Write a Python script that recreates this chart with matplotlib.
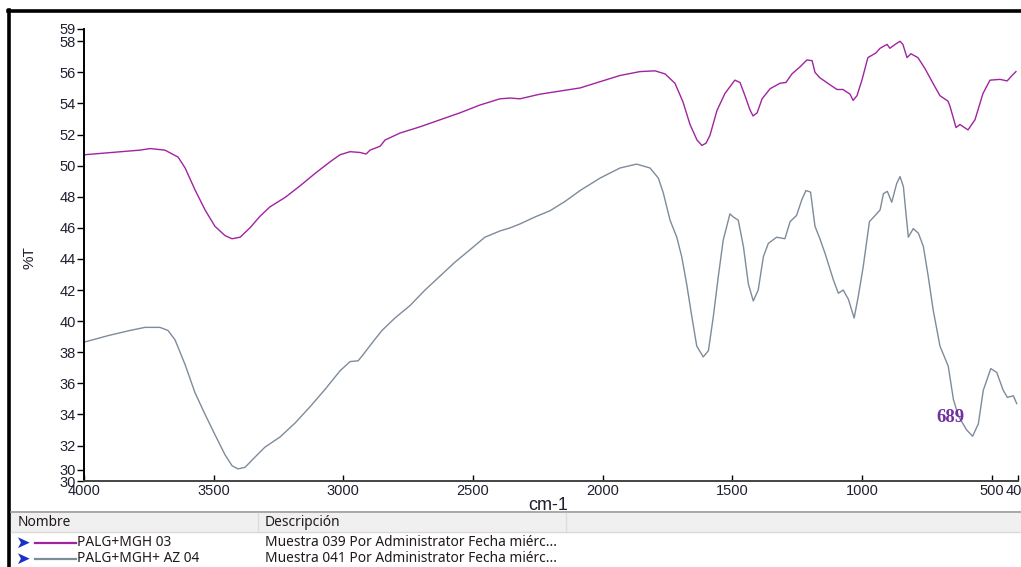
import matplotlib
matplotlib.use('Agg')
from matplotlib import pyplot as plt
from matplotlib.lines import Line2D
from matplotlib.patches import Rectangle

W, H = 1021, 567

# PALG+MGH 03 (magenta trace)
wn_mgh = [4000, 3784, 3745, 3688, 3637, 3610, 3572, 3533, 3495, 3456, 3429, 3398,
          3360, 3321, 3283, 3225, 3167, 3109, 3051, 3013, 2974, 2936, 2912, 2897,
          2858, 2839, 2781, 2704, 2627, 2550, 2473, 2396, 2357, 2319, 2241, 2164,
          2087, 2010, 1933, 1856, 1798, 1759, 1721, 1690, 1663, 1636, 1617, 1601,
          1586, 1559, 1528, 1490, 1470, 1451, 1432, 1420, 1404, 1385, 1354, 1316,
          1293, 1270, 1239, 1212, 1192, 1181, 1162, 1123, 1096, 1073, 1046, 1034,
          1019, 1000, 977, 946, 930, 903, 892, 872, 853, 842, 826, 811, 784, 757,
          726, 699, 668, 660, 637, 622, 591, 564, 533, 506, 467, 440, 421, 406]
t_mgh = [50.7, 51.0, 51.1, 51.0, 50.55, 49.85, 48.45, 47.15, 46.1, 45.5, 45.3, 45.4,
         46.0, 46.75, 47.35, 47.95, 48.7, 49.5, 50.25, 50.7, 50.9, 50.85, 50.75, 51.0,
         51.25, 51.65, 52.1, 52.5, 52.95, 53.4, 53.9, 54.3, 54.35, 54.3, 54.6, 54.8,
         55.0, 55.4, 55.8, 56.05, 56.1, 55.9, 55.3, 54.1, 52.65, 51.65, 51.3, 51.45,
         51.95, 53.55, 54.65, 55.5, 55.35, 54.5, 53.6, 53.2, 53.4, 54.3, 54.95, 55.3,
         55.35, 55.9, 56.35, 56.8, 56.75, 56.0, 55.65, 55.2, 54.9, 54.9, 54.6, 54.2,
         54.5, 55.5, 56.95, 57.25, 57.55, 57.8, 57.55, 57.8, 58.0, 57.8, 56.95, 57.2,
         56.95, 56.25, 55.3, 54.5, 54.15, 53.8, 52.45, 52.65, 52.3, 52.95, 54.65, 55.5,
         55.55, 55.45, 55.8, 56.05]

# PALG+MGH+ AZ 04 (gray trace)
wn_az = [4000, 3900, 3823, 3765, 3707, 3676, 3649, 3610, 3572, 3533, 3495, 3456,
         3429, 3406, 3379, 3341, 3302, 3244, 3186, 3128, 3071, 3013, 2974, 2943,
         2928, 2889, 2851, 2801, 2743, 2685, 2627, 2569, 2511, 2454, 2396, 2357,
         2319, 2261, 2203, 2145, 2087, 2010, 1933, 1869, 1817, 1785, 1766, 1740,
         1714, 1695, 1676, 1656, 1637, 1612, 1592, 1573, 1554, 1535, 1509, 1496,
         1477, 1457, 1438, 1419, 1400, 1380, 1361, 1329, 1297, 1277, 1252, 1232,
         1216, 1198, 1181, 1162, 1142, 1126, 1110, 1091, 1072, 1052, 1030, 1014,
         995, 971, 949, 930, 917, 902, 885, 866, 853, 840, 830, 821, 802, 782,
         763, 744, 725, 699, 667, 647, 628, 596, 573, 551, 532, 503, 480, 455,
         439, 416, 403]
t_az = [38.65, 39.1, 39.4, 39.6, 39.6, 39.4, 38.8, 37.2, 35.4, 34.0, 32.7, 31.4,
        30.7, 30.5, 30.6, 31.25, 31.9, 32.55, 33.45, 34.5, 35.6, 36.8, 37.4, 37.45,
        37.75, 38.6, 39.4, 40.2, 41.0, 42.0, 42.9, 43.8, 44.6, 45.4, 45.8, 46.0,
        46.25, 46.7, 47.1, 47.7, 48.4, 49.2, 49.85, 50.1, 49.85, 49.2, 48.25, 46.5,
        45.4, 44.15, 42.4, 40.3, 38.4, 37.7, 38.1, 40.3, 42.85, 45.2, 46.9, 46.7,
        46.5, 44.8, 42.4, 41.3, 42.0, 44.15, 45.0, 45.4, 45.3, 46.4, 46.8, 47.8,
        48.4, 48.3, 46.1, 45.3, 44.35, 43.5, 42.65, 41.8, 42.0, 41.4, 40.2, 41.6,
        43.5, 46.4, 46.8, 47.15, 48.2, 48.35, 47.65, 48.85, 49.3, 48.65, 46.9, 45.4,
        45.95, 45.65, 44.8, 42.85, 40.7, 38.4, 37.1, 34.95, 33.9, 33.0, 32.6, 33.4,
        35.55, 36.95, 36.7, 35.55, 35.1, 35.2, 34.7]

x_ticks = [4000, 3500, 3000, 2500, 2000, 1500, 1000, 500, 400]
y_min, y_max = 29.72, 58.79
y_ticks = [y_min, 30.45, 32, 34, 36, 38, 40, 42, 44, 46, 48, 50, 52, 54, 56, 58, y_max]
y_labels = ['30', '30', '32', '34', '36', '38', '40', '42', '44', '46', '48',
            '50', '52', '54', '56', '58', '59']

names = ['PALG+MGH 03', 'PALG+MGH+ AZ 04']
descriptions = ['Muestra 039 Por Administrator Fecha miérc...',
                'Muestra 041 Por Administrator Fecha miérc...']
colors = ['#a0239f', '#7d8b9b']
peak_label = '689'
peak_pos = (660, 33.8)


def px(x, y):
    return x / W, 1 - y / H


def main():
    plt.rcParams['font.family'] = ['Liberation Sans', 'DejaVu Sans']
    fig = plt.figure(figsize=(W / 100, H / 100), dpi=100)
    left, top = px(84, 29)
    right, bottom = px(1017.5, 481)
    ax = fig.add_axes([left, bottom, right - left, top - bottom])

    ax.plot(wn_mgh, t_mgh, color=colors[0], lw=1.0)
    ax.plot(wn_az, t_az, color=colors[1], lw=1.0)
    ax.text(peak_pos[0], peak_pos[1], peak_label, color='#7030a0', fontsize=13.5,
            fontweight='bold', family='Liberation Serif', ha='center', va='center')

    ax.set_xlim(4000, 400)
    ax.set_ylim(y_min, y_max)
    ax.set_xticks(x_ticks)
    ax.set_xticklabels([str(v) for v in x_ticks])
    ax.set_yticks(y_ticks)
    ax.set_yticklabels(y_labels)
    ax.tick_params(axis='y', direction='out', length=5, width=1, pad=1,
                   labelsize=10.5, labelcolor='#1e2030')
    ax.tick_params(axis='x', direction='in', length=4, width=1, pad=2,
                   labelsize=10.5, labelcolor='#1e2030')
    for side in ['top', 'right']:
        ax.spines[side].set_visible(False)
    for side in ['left', 'bottom']:
        ax.spines[side].set_linewidth(1.4)
    ax.spines['bottom'].set_color('#444444')

    fig.text(*px(30, 258), '%T', rotation=90, fontsize=11, ha='center',
             va='center', color='#1e2030')
    fig.text(*px(548, 506), 'cm-1', fontsize=13, ha='center', va='center',
             color='#1e2030')

    # outer frame, left and top
    fig.add_artist(Line2D([9 / W, 9 / W], [0, 1 - 10 / H], color='black',
                          lw=2.6, transform=fig.transFigure))
    fig.add_artist(Line2D([8 / W, 1], [1 - 11 / H, 1 - 11 / H], color='black',
                          lw=2.6, transform=fig.transFigure))

    # sample table under the plot
    fig.add_artist(Line2D([11 / W, 1], [1 - 512 / H, 1 - 512 / H],
                          color='#9a9a9a', lw=1.2, transform=fig.transFigure))
    x0, y0 = px(11, 532)
    fig.add_artist(Rectangle((x0, y0), 1 - x0, 19 / H, facecolor='#f0f0f0',
                             edgecolor='none', transform=fig.transFigure))
    fig.add_artist(Line2D([11 / W, 1], [y0, y0], color='#d9d9d9', lw=1,
                          transform=fig.transFigure))
    for cx in [258, 566]:
        fig.add_artist(Line2D([cx / W, cx / W], [y0, 1 - 513 / H],
                              color='#dcdcdc', lw=1, transform=fig.transFigure))
    text_kw = dict(fontsize=9.9, va='center', family='Noto Sans', color='#221a1a')
    fig.text(*px(18, 523), 'Nombre', **text_kw)
    fig.text(*px(265, 523), 'Descripción', **text_kw)

    for i in range(len(names)):
        row_y = 543 + i * 16
        fig.text(*px(15, row_y), '➤', fontsize=12.5, va='center',
                 family='DejaVu Sans', color='#1a30c8')
        fig.add_artist(Line2D([35 / W, 76 / W], [1 - row_y / H, 1 - row_y / H],
                              color=colors[i], lw=1.6,
                              transform=fig.transFigure))
        fig.text(*px(77, row_y), names[i], **text_kw)
        fig.text(*px(265, row_y), descriptions[i], **text_kw)

    fig.savefig('out.png', dpi=100, facecolor='white')


if __name__ == '__main__':
    main()
